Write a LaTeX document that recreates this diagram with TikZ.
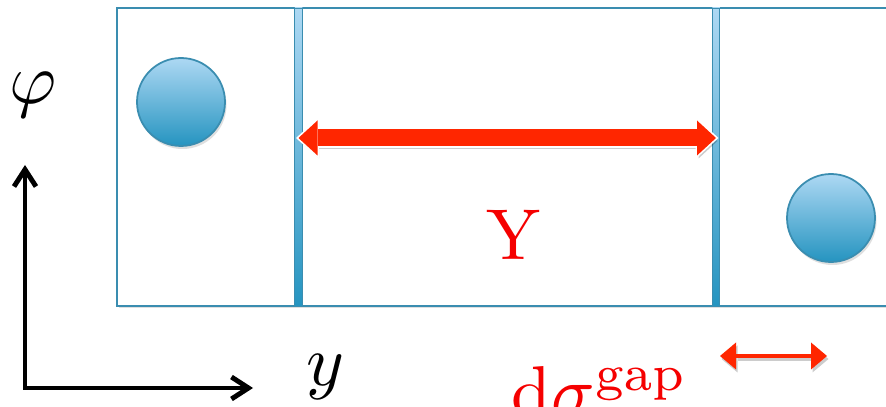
\documentclass[tikz,border=0pt]{standalone}
\usetikzlibrary{arrows.meta,shadows}
\definecolor{stripblue}{HTML}{3A8DB0}
\definecolor{balltop}{HTML}{ADD8F3}
\definecolor{ballbot}{HTML}{2594C0}
\definecolor{gapred}{HTML}{FF2600}
\definecolor{labelred}{HTML}{F50000}

\begin{document}
\begin{tikzpicture}[
  stripbox/.style={draw=stripblue, line width=1.1pt, fill=white,
    drop shadow={shadow xshift=0.04cm, shadow yshift=-0.05cm, opacity=0.25}},
  gapbar/.style={rectangle, draw=stripblue, line width=0.5pt, top color=balltop,
    bottom color=ballbot, minimum width=0.15cm, minimum height=5.96cm, inner sep=0pt},
  ball/.style={circle, draw=stripblue, line width=1pt, top color=balltop,
    bottom color=ballbot, minimum size=1.76cm, inner sep=0pt,
    drop shadow={shadow xshift=0.03cm, shadow yshift=-0.06cm, opacity=0.25}},
  axis/.style={black, line width=2.8pt, line join=miter,
    {Straight Barb[length=0.34cm, width=0.44cm]}-{Straight Barb[length=0.34cm, width=0.44cm]}},
  axislabel/.style={inner sep=0pt, font=\normalsize, scale=4.1, transform shape},
  redlabel/.style={inner sep=0pt, text=labelred, font=\normalsize, scale=4.1, transform shape},
  arrowshadow/.style={black, opacity=0.2, transform canvas={xshift=0.03cm, yshift=-0.06cm}}
]
  \useasboundingbox (0,0) rectangle (17.72,8.14);
  \clip (0,0) rectangle (17.72,8.14);

  % ---------- strip with the two gap walls ----------
  \draw[stripbox] (2.34,2.02) rectangle (18.3,7.98);
  \node[gapbar] (barL) at (5.97,5.0) {};
  \node[gapbar] (barR) at (14.32,5.0) {};

  \node[ball] (ballL) at (3.62,6.1) {};
  \node[ball] (ballR) at (16.62,3.78) {};

  % ---------- span Y between the walls ----------
  \coordinate (spanL) at (barL |- 0,5.38);
  \coordinate (spanR) at (barR |- 0,5.38);
  \draw[arrowshadow, line width=0.34cm,
    {Triangle[length=0.38cm, width=0.70cm, line width=0pt]}-{Triangle[length=0.38cm, width=0.70cm, line width=0pt]}]
    (spanL) -- (spanR);
  \draw[white, line width=0.42cm, shorten <=-0.05cm, shorten >=-0.05cm,
    {Triangle[length=0.46cm, width=0.84cm, line width=0pt]}-{Triangle[length=0.46cm, width=0.84cm, line width=0pt]}]
    (spanL) -- (spanR);
  \draw[gapred, line width=0.34cm,
    {Triangle[length=0.38cm, width=0.70cm, line width=0pt]}-{Triangle[length=0.38cm, width=0.70cm, line width=0pt]}]
    (spanL) -- (spanR);
  \node[redlabel, anchor=base] (spanlabel) at (10.28,2.94) {Y};

  % ---------- axes ----------
  \coordinate (origin) at (0.5,0.38);
  \coordinate (phiend) at (0.5,4.84);
  \coordinate (yend) at (5.06,0.38);
  \draw[axis] (phiend) -- (origin) -- (yend);
  \node[axislabel, anchor=base] (philabel) at (0.66,6.06) {$\varphi$};
  \node[axislabel, anchor=base] (ylabel) at (6.5,0.42) {$y$};

  % ---------- gap width ----------
  \coordinate (gapL) at (14.4,1.02);
  \coordinate (gapR) at (16.54,1.02);
  \draw[arrowshadow, line width=0.08cm,
    {Triangle[length=0.32cm, width=0.54cm, line width=0pt]}-{Triangle[length=0.32cm, width=0.54cm, line width=0pt]}]
    (gapL) -- (gapR);
  \draw[gapred, line width=0.08cm,
    {Triangle[length=0.32cm, width=0.54cm, line width=0pt]}-{Triangle[length=0.32cm, width=0.54cm, line width=0pt]}]
    (gapL) -- (gapR);
  \node[redlabel, anchor=base west] (gaplabel) at (10.2,-0.2) {$\mathrm{d}\sigma^{\mathrm{gap}}$};
\end{tikzpicture}
\end{document}
